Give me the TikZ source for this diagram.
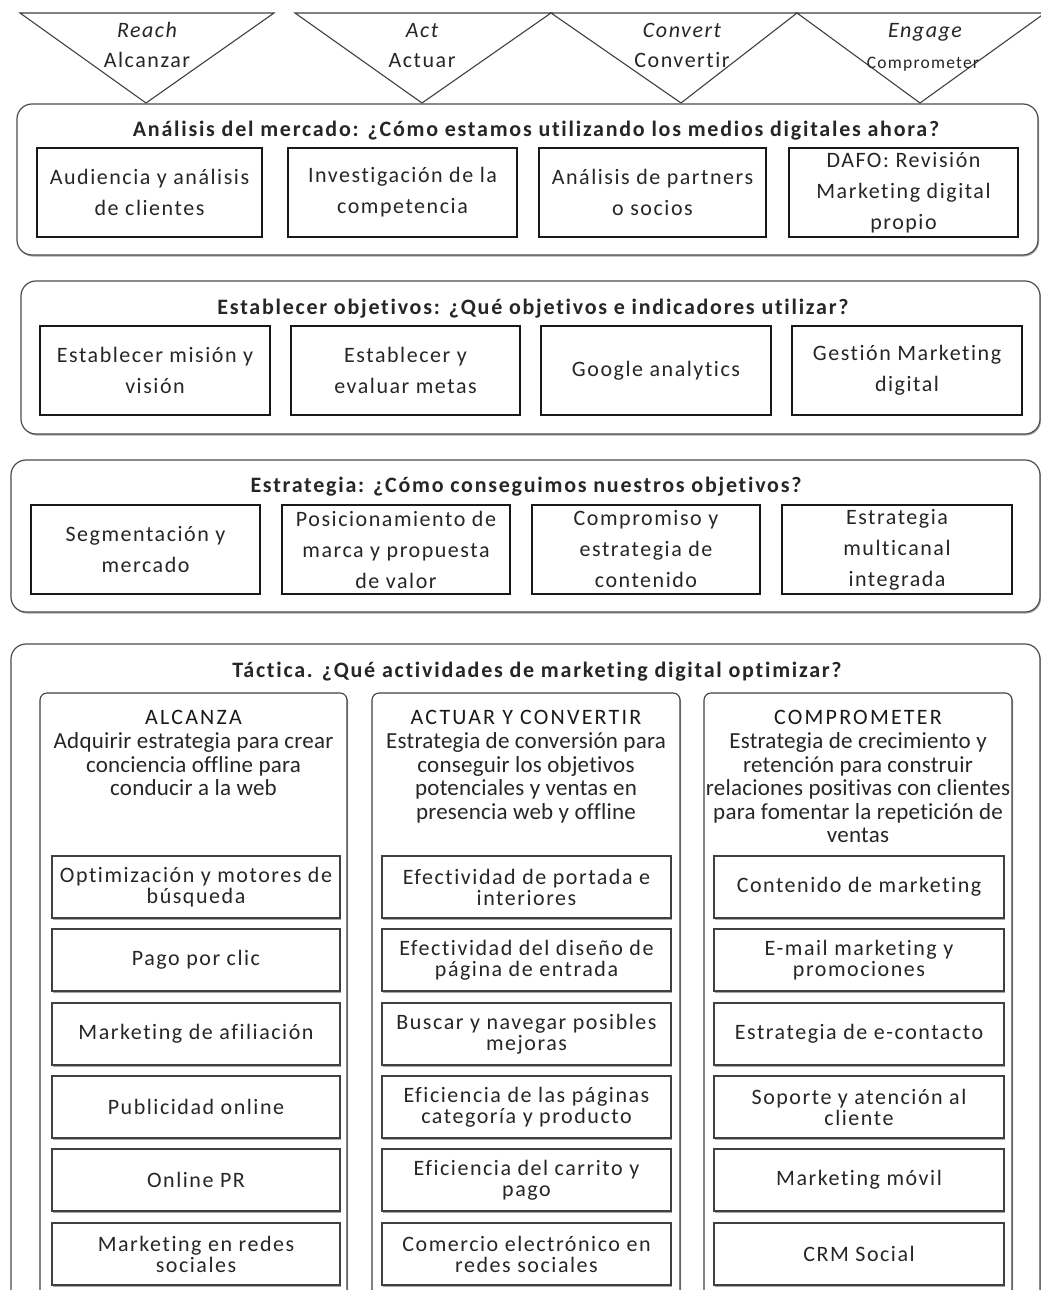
\documentclass[tikz,border=0pt]{standalone}
\usepackage{fontspec}
\setmainfont{Carlito}[Ligatures=NoCommon]
\newfontfamily\boxfont[LetterSpace=7,Ligatures=NoCommon]{Carlito}
\newfontfamily\headfont[LetterSpace=8,Ligatures=NoCommon]{Carlito}
\newfontfamily\colfont[LetterSpace=10,Ligatures=NoCommon]{Carlito}
\newfontfamily\descfont[LetterSpace=1,Ligatures=NoCommon]{Carlito}
\usetikzlibrary{shadows}

\begin{document}
\begin{tikzpicture}[x=1pt,y=-1pt,
    tri/.style={line width=1.1pt,black!75},
    panel/.style={line width=1.2pt,draw=black!70,fill=white,rounded corners=15pt,
        drop shadow={shadow xshift=1pt,shadow yshift=-1.5pt,fill=black!35,opacity=1}},
    column/.style={line width=1.1pt,draw=black!75,fill=white,rounded corners=7pt,
        drop shadow={shadow xshift=1pt,shadow yshift=-1.5pt,fill=black!35,opacity=1}},
    bigbox/.style={draw=black!90,line width=1.3pt,fill=white,align=center,
        inner sep=0pt,text=black!85,font=\boxfont\fontsize{22}{31}\selectfont},
    smallbox/.style={draw=black!75,line width=1.2pt,fill=white,align=center,
        inner sep=0pt,text=black!85,font=\boxfont\fontsize{22}{21}\selectfont,
        minimum height=62pt,
        drop shadow={shadow xshift=0.8pt,shadow yshift=-1.5pt,fill=black!35,opacity=1}},
    title/.style={text=black!85,font=\headfont\fontsize{22}{24}\selectfont\bfseries},
    trilabel/.style={text=black!85,text height=15pt,text depth=5pt,inner sep=0pt,
        font=\boxfont\fontsize{22}{24}\selectfont},
    colhead/.style={text=black!90,align=center,font=\colfont\fontsize{22}{24}\selectfont},
    coldesc/.style={text=black!85,align=center,font=\descfont\fontsize{23}{23.5}\selectfont}]
    \clip (0,0) rectangle (1041,1290);
    \fill[white] (0,0) rectangle (1041,1290);

    % Funnel triangles
    \draw[tri] (20,13) -- (274,13) -- (146,103) -- cycle;
    \draw[tri] (295,13) -- (551,13) -- (422,103) -- cycle;
    \draw[tri] (551,13) -- (797,13) -- (681,103) -- cycle;
    \draw[tri] (797,13) -- (1045,13) -- (920,103) -- cycle;
    \node[trilabel] (reach) at (147,33) {\itshape Reach};
    \node[trilabel] (reachES) at (147,62) {Alcanzar};
    \node[trilabel] (act) at (422,33) {\itshape Act};
    \node[trilabel] (actES) at (422,62) {Actuar};
    \node[trilabel] (convert) at (682,33) {\itshape Convert};
    \node[trilabel] (convertES) at (682,62) {Convertir};
    \node[trilabel] (engage) at (925,33) {\itshape Engage};
    \node[trilabel,font=\boxfont\fontsize{17.5}{20}\selectfont] (engageES) at (923,63) {Comprometer};

    % Market analysis
    \draw[panel] (17,104) rectangle (1038,255);
    \node[title] (analisis) at (536,131) {Análisis del mercado: ¿Cómo estamos utilizando los medios digitales ahora?};
    \node[bigbox,minimum width=225pt,minimum height=89pt] (audiencia) at (149.5,192.5) {Audiencia y análisis\\de clientes};
    \node[bigbox,minimum width=229pt,minimum height=89pt] (competencia) at (402.5,192.5) {Investigación de la\\competencia};
    \node[bigbox,minimum width=227pt,minimum height=89pt] (partners) at (652.5,192.5) {Análisis de partners\\o socios};
    \node[bigbox,minimum width=229pt,minimum height=89pt] (dafo) at (903.5,192.5) {DAFO: Revisión\\Marketing digital\\propio};

    % Objectives
    \draw[panel] (21,281) rectangle (1040,434);
    \node[title] (objetivos) at (533,309) {Establecer objetivos: ¿Qué objetivos e indicadores utilizar?};
    \node[bigbox,minimum width=230pt,minimum height=89pt] (mision) at (155,370.5) {Establecer misión y\\visión};
    \node[bigbox,minimum width=229pt,minimum height=89pt] (metas) at (405.5,370.5) {Establecer y\\evaluar metas};
    \node[bigbox,minimum width=230pt,minimum height=89pt] (analytics) at (656,370.5) {Google analytics};
    \node[bigbox,minimum width=230pt,minimum height=89pt] (gestion) at (907,370.5) {Gestión Marketing\\digital};

    % Strategy
    \draw[panel] (11,460) rectangle (1040,612);
    \node[title] (estrategia) at (526,487) {Estrategia: ¿Cómo conseguimos nuestros objetivos?};
    \node[bigbox,minimum width=229pt,minimum height=89pt] (segmentacion) at (145.5,549.5) {Segmentación y\\mercado};
    \node[bigbox,minimum width=228pt,minimum height=89pt] (posicion) at (396,549.5) {Posicionamiento de\\marca y propuesta\\de valor};
    \node[bigbox,minimum width=228pt,minimum height=89pt] (contenido) at (646,549.5) {Compromiso y\\estrategia de\\contenido};
    \node[bigbox,minimum width=230pt,minimum height=89pt] (multicanal) at (897,549.5) {Estrategia\\multicanal\\integrada};

    % Tactics
    \draw[panel] (11,644) rectangle (1040,1310);
    \node[title] (tactica) at (537,672) {Táctica. ¿Qué actividades de marketing digital optimizar?};
    \draw[column] (40,693) rectangle (347,1300);
    \draw[column] (372,693) rectangle (680,1300);
    \draw[column] (704,693) rectangle (1012,1300);
    \node[colhead] (alcanza) at (193.5,717) {ALCANZA};
    \node[coldesc,anchor=north] (alcanzaTxt) at (193.5,729) {Adquirir estrategia para crear\\conciencia offline para\\conducir a la web};
    \node[colhead] (convertir) at (526,717) {ACTUAR Y CONVERTIR};
    \node[coldesc,anchor=north] (convertirTxt) at (526,729) {Estrategia de conversión para\\conseguir los objetivos\\potenciales y ventas en\\presencia web y offline};
    \node[colhead] (comprometer) at (858,717) {COMPROMETER};
    \node[coldesc,anchor=north] (comprometerTxt) at (858,729) {Estrategia de crecimiento y\\retención para construir\\relaciones positivas con clientes\\para fomentar la repetición de\\ventas};

    % Reach boxes
    \node[smallbox,minimum width=288pt] (seo) at (196,887) {Optimización y motores de\\búsqueda};
    \node[smallbox,minimum width=288pt] (ppc) at (196,960) {Pago por clic};
    \node[smallbox,minimum width=288pt] (afiliacion) at (196,1034) {Marketing de afiliación};
    \node[smallbox,minimum width=288pt] (publicidad) at (196,1107) {Publicidad online};
    \node[smallbox,minimum width=288pt] (pr) at (196,1180) {Online PR};
    \node[smallbox,minimum width=288pt] (redes) at (196,1254) {Marketing en redes\\sociales};

    % Act and convert boxes
    \node[smallbox,minimum width=289pt] (portada) at (526.5,887) {Efectividad de portada e\\interiores};
    \node[smallbox,minimum width=289pt] (diseno) at (526.5,960) {Efectividad del diseño de\\página de entrada};
    \node[smallbox,minimum width=289pt] (navegar) at (526.5,1034) {Buscar y navegar posibles\\mejoras};
    \node[smallbox,minimum width=289pt] (paginas) at (526.5,1107) {Eficiencia de las páginas\\categoría y producto};
    \node[smallbox,minimum width=289pt] (carrito) at (526.5,1180) {Eficiencia del carrito y\\pago};
    \node[smallbox,minimum width=289pt] (comercio) at (526.5,1254) {Comercio electrónico en\\redes sociales};

    % Engage boxes
    \node[smallbox,minimum width=290pt] (marketing) at (859,887) {Contenido de marketing};
    \node[smallbox,minimum width=290pt] (email) at (859,960) {E-mail marketing y\\promociones};
    \node[smallbox,minimum width=290pt] (econtacto) at (859,1034) {Estrategia de e-contacto};
    \node[smallbox,minimum width=290pt] (soporte) at (859,1107) {Soporte y atención al\\cliente};
    \node[smallbox,minimum width=290pt] (movil) at (859,1180) {Marketing móvil};
    \node[smallbox,minimum width=290pt] (crm) at (859,1254) {CRM Social};
\end{tikzpicture}
\end{document}
